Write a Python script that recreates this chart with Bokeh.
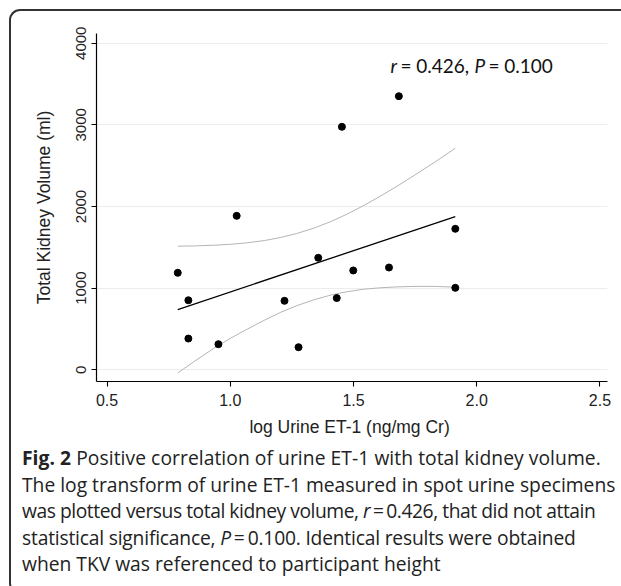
from bokeh.plotting import figure
from bokeh.models import Range1d, FixedTicker, Label, Div
from bokeh.layouts import column
from bokeh.embed import file_html
from bokeh.resources import INLINE

# ---- data ----
et1_log = [0.787, 0.830, 0.830, 0.952, 1.026, 1.220, 1.277, 1.357, 1.432, 1.453,
           1.499, 1.644, 1.684, 1.913, 1.913]
tkv = [1188, 852, 383, 314, 1886, 845, 277, 1372, 879, 2976,
       1217, 1253, 3351, 1727, 1004]

fit_x = [0.787, 1.913]
fit_y = [738, 1877]

ci_x = [0.787, 0.85, 0.934, 1.0, 1.07, 1.14, 1.205, 1.27, 1.341, 1.41,
        1.476, 1.544, 1.61, 1.68, 1.75, 1.83, 1.913]
ci_upper = [1514, 1517, 1526, 1537, 1556, 1584, 1621, 1670, 1737, 1818,
            1910, 2016, 2129, 2255, 2388, 2544, 2714]
ci_lower = [-38, 95, 265, 385, 500, 610, 705, 786, 859, 917,
            958, 988, 1005, 1016, 1022, 1022, 1012]

x_ticks = [0.5, 1.0, 1.5, 2.0, 2.5]
y_ticks = [0, 1000, 2000, 3000, 4000]

x_label = "log Urine ET-1 (ng/mg  Cr)"
y_label = "Total Kidney Volume (ml)"

stat_r = "0.426"
stat_p = "0.100"

caption_lines = [
    ("<b>Fig. 2</b> Positive correlation of urine ET-1 with total kidney volume.", 0.06),
    ("The log transform of urine ET-1 measured in spot urine specimens", 0.0),
    ("was plotted versus total kidney volume, <i>r</i>&#8201;=&#8201;0.426, that did not attain", -0.45),
    ("statistical significance, <i>P</i>&#8201;=&#8201;0.100. Identical results were obtained", -0.2),
    ("when TKV was referenced to participant height", 0.0),
]

caption_html = (
    "<div style=\"position:relative;top:-9px;font-family:'Open Sans';font-size:19.25px;"
    "line-height:26.5px;color:#222;white-space:nowrap;padding-left:6px;\">"
    + "<br>".join(f"<span style=\"letter-spacing:{ls}px\">{t}</span>" for t, ls in caption_lines)
    + "</div>"
)

# ---- figure ----
p = figure(width=600, height=438,
           x_range=Range1d(0.4573, 2.5305), y_range=Range1d(-143, 4119),
           output_backend="svg", toolbar_location=None,
           min_border_left=85, min_border_right=4,
           min_border_top=22, min_border_bottom=68)
p.outline_line_color = None
p.background_fill_color = "white"
p.border_fill_color = None

p.xgrid.visible = False
p.ygrid.ticker = FixedTicker(ticks=y_ticks)
p.ygrid.grid_line_color = "#ececec"
p.ygrid.grid_line_width = 1

for ax in (p.xaxis[0], p.yaxis[0]):
    ax.axis_line_color = "black"
    ax.axis_line_width = 1.2
    ax.major_tick_line_color = "black"
    ax.major_tick_line_width = 1.1
    ax.major_tick_out = 5
    ax.major_tick_in = 0
    ax.minor_tick_line_color = None
    ax.major_label_text_font = "Liberation Sans"
    ax.major_label_text_color = "#222"
    ax.axis_label_text_font = "Liberation Sans"
    ax.axis_label_text_font_style = "normal"
    ax.axis_label_text_color = "#222"
    ax.axis_label_text_font_size = "17.5px"

p.xaxis.ticker = FixedTicker(ticks=x_ticks)
p.xaxis.major_label_overrides = {t: f"{t:.1f}" for t in x_ticks}
p.xaxis.major_label_text_font_size = "16px"
p.xaxis.major_label_standoff = 7
p.xaxis.axis_label = x_label
p.xaxis.axis_label_standoff = 8

p.yaxis.ticker = FixedTicker(ticks=y_ticks)
p.yaxis.major_label_text_font_size = "15px"
p.yaxis.major_label_orientation = "vertical"
p.yaxis.major_label_standoff = 5
p.yaxis.axis_label = y_label
p.yaxis.axis_label_standoff = 20

# CI band lines
p.line(ci_x, ci_upper, line_color="#b4b4b4", line_width=1)
p.line(ci_x, ci_lower, line_color="#b4b4b4", line_width=1)
# fitted line
p.line(fit_x, fit_y, line_color="black", line_width=1.3)
# points
p.scatter(et1_log, tkv, size=7, marker="circle", fill_color="black", line_color="black")

# annotation "r = 0.426, P = 0.100"
ann_x, ann_y = 1.6496, 3723
ann_font = "Lato"
ann_size = "19px"
parts = [("r", "italic", 0), ("= " + stat_r + ",", "normal", 10),
         ("P", "italic", 84), ("= " + stat_p, "normal", 98)]
for txt, style, off in parts:
    p.add_layout(Label(x=ann_x, y=ann_y, text=txt, x_offset=off,
                       text_font=ann_font, text_font_size=ann_size,
                       text_font_style=style, text_color="#111",
                       text_baseline="alphabetic", text_align="left"))

cap = Div(text=caption_html, width=606, height=133)

layout = column(p, cap, margin=(9, 0, 0, 9),
                styles={"border": "2px solid #333", "border-right": "none",
                        "border-radius": "11px 0 0 11px"})

open("out.html", "w").write(file_html(layout, INLINE))
